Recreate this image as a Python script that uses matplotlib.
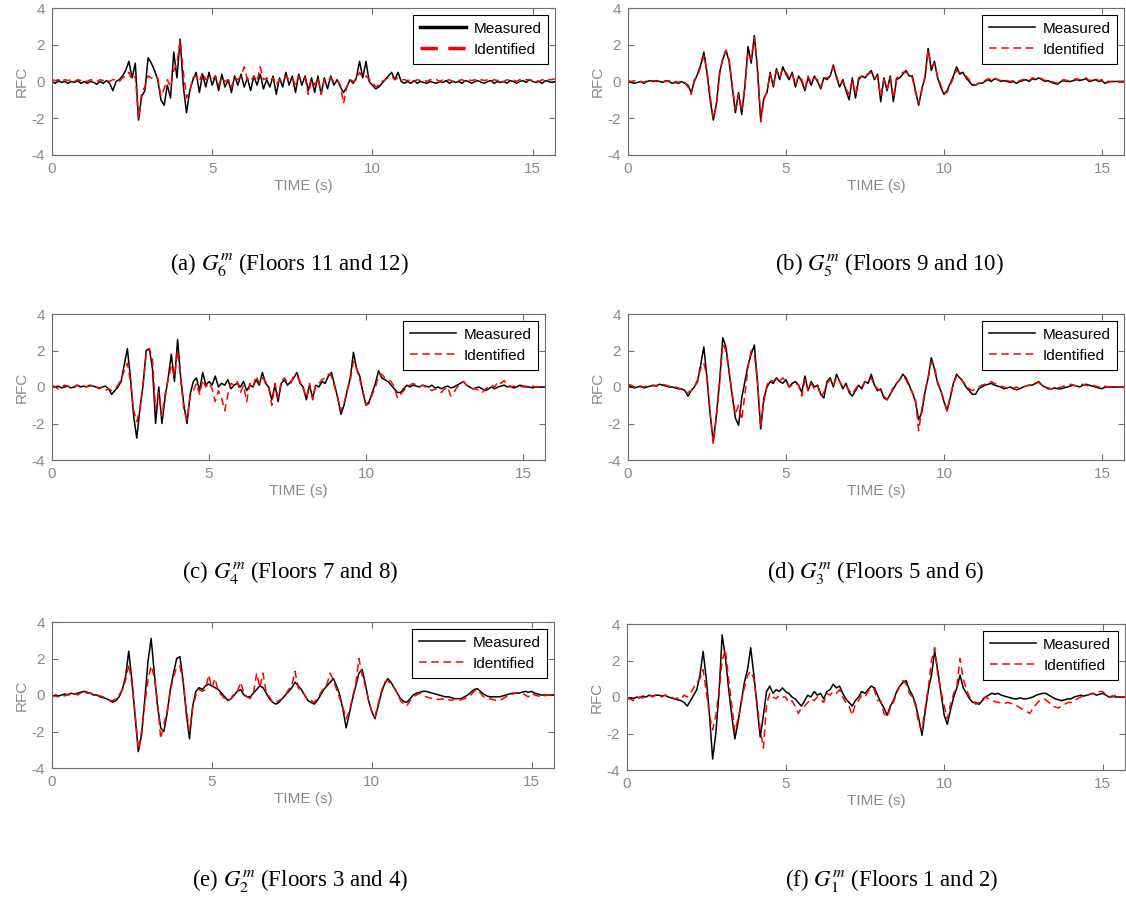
import numpy as np
import matplotlib
matplotlib.use("Agg")
import matplotlib.pyplot as plt

plt.rcParams['font.family'] = ['Liberation Sans', 'DejaVu Sans']
plt.rcParams['mathtext.fontset'] = 'stix'

DT = 0.1  # sampling step of the read-off values (s)

# ---------------- (a) G6 ----------------
a_measured = [
    0.0, -0.1, 0.05, -0.05, 0.0, -0.1, 0.0, -0.05, 0.05, -0.1,
    0.0, -0.1, 0.0, -0.05, -0.15, 0.0, -0.1, 0.05, -0.1, -0.5,
    0.0, 0.1, 0.3, 0.6, 1.1, 0.2, 1.0, -2.1, -0.8, -0.5,
    1.3, 1.0, 0.6, 0.1, -1.0, -1.3, -0.2, -0.9, 1.6, 0.2,
    2.3, -0.3, -1.7, -0.5, 0.1, 0.5, -0.6, 0.4, -0.3, 0.5,
    -0.2, 0.3, -0.5, 0.4, -0.3, 0.1, -0.6, 0.3, -0.2, 0.4,
    -0.3, 0.2, -0.5, 0.3, -0.2, 0.4, -0.4, 0.1, -0.3, 0.3,
    -0.7, 0.2, -0.3, 0.5, -0.2, 0.3, -0.6, 0.4, -0.2, 0.3,
    -0.5, 0.2, -0.6, 0.3, -0.7, 0.2, -0.4, 0.3, -0.2, 0.1,
    -0.3, -0.6, -0.3, 0.1, -0.1, 0.2, 1.1, 0.2, 1.1, 0.0,
    -0.2, -0.4, -0.3, -0.1, 0.1, 0.3, 0.5, 0.1, 0.5, 0.0,
    -0.1, 0.0, -0.1, 0.05, -0.1, 0.0, -0.05, -0.1, 0.0, -0.05,
    -0.1, 0.0, -0.05, 0.05, -0.1, 0.0, -0.05, 0.0, -0.1, 0.05,
    0.0, -0.1, 0.0, 0.05, -0.05, -0.1, 0.0, 0.05, -0.1, 0.0,
    -0.05, 0.0, -0.1, 0.05, 0.0, -0.1, 0.0, 0.05, -0.05, 0.1,
    0.0, -0.05, 0.0, -0.1, 0.05, 0.0, -0.05, 0.0]
a_identified = [
    0.1, 0.05, 0.1, 0.0, 0.1, 0.05, 0.1, 0.0, 0.1, 0.05,
    0.1, 0.0, 0.1, 0.05, 0.0, 0.1, 0.05, 0.1, 0.0, 0.1,
    0.1, 0.0, 0.2, 0.3, 0.5, 0.1, 0.3, -2.0, -0.6, -0.3,
    0.3, 0.2, 0.1, 0.2, -0.8, -0.4, 0.1, -0.3, 0.6, 1.0,
    2.2, 0.5, -0.9, -0.5, 0.2, 0.3, 0.0, 0.5, 0.1, 0.2,
    0.1, 0.3, -0.2, 0.2, 0.0, 0.1, -0.3, 0.2, 0.1, 0.3,
    0.8, 0.1, 0.0, 0.3, 0.0, 0.8, 0.1, 0.2, 0.0, 0.2,
    -0.2, 0.1, 0.0, 0.3, 0.1, 0.2, -0.2, 0.3, 0.1, 0.2,
    -0.7, 0.1, -0.2, 0.2, -0.7, 0.1, 0.0, 0.2, 0.0, 0.1,
    -0.2, -1.2, -0.3, 0.1, 0.0, 0.1, 0.5, 0.2, 0.3, 0.1,
    0.0, -0.3, -0.2, 0.0, 0.1, 0.2, 0.3, 0.1, 0.2, 0.1,
    0.1, 0.05, 0.1, 0.0, 0.1, 0.05, 0.1, 0.0, 0.1, 0.05,
    0.1, 0.0, 0.1, 0.05, 0.1, 0.0, 0.1, 0.05, 0.1, 0.0,
    0.1, 0.05, 0.1, 0.0, 0.1, 0.05, 0.1, 0.0, 0.1, 0.05,
    0.1, 0.0, 0.1, 0.05, 0.1, 0.0, 0.1, 0.05, 0.1, 0.1,
    0.05, 0.1, 0.0, 0.1, 0.05, 0.1, 0.1, 0.15]

# ---------------- (b) G5 ----------------
b_measured = [
    0.0, -0.05, -0.1, -0.05, 0.0, -0.1, 0.0, 0.05, 0.0, 0.05,
    0.0, -0.05, 0.05, 0.0, -0.1, -0.05, -0.1, 0.0, -0.1, -0.2,
    -0.6, 0.0, 0.4, 0.9, 1.6, 0.5, -1.0, -2.1, -1.2, 0.5,
    1.2, 1.7, 1.1, -0.3, -1.7, -0.6, -1.8, -0.3, 1.9, 1.0,
    2.5, 0.6, -2.1, -0.9, -0.6, 0.5, -0.3, 0.7, 0.1, 0.8,
    0.4, 0.1, 0.5, -0.3, 0.3, 0.0, -0.5, 0.2, -0.2, 0.3,
    0.0, -0.4, 0.2, 0.1, 0.3, 0.9, 0.2, -0.3, 0.1, -0.5,
    -1.0, 0.2, -0.9, 0.1, 0.3, 0.2, 0.4, 0.6, 0.1, 0.4,
    -1.1, 0.2, -0.5, 0.3, -1.1, 0.1, 0.2, 0.4, 0.6, 0.3,
    0.3, -0.5, -1.3, -0.4, 0.2, 1.8, 0.6, 1.1, 0.2, -0.3,
    -0.7, -0.5, -0.1, 0.3, 0.8, 0.4, 0.5, 0.2, 0.0, -0.2,
    -0.2, -0.1, -0.1, 0.0, 0.1, 0.0, 0.15, 0.1, 0.0, 0.05,
    0.0, -0.05, 0.0, -0.1, 0.0, 0.05, 0.1, 0.0, 0.15, 0.1,
    0.2, 0.1, 0.0, 0.05, -0.05, -0.1, -0.15, 0.0, 0.05, 0.0,
    0.0, 0.05, 0.1, 0.05, 0.1, 0.15, 0.0, 0.05, 0.1, 0.0,
    0.05, -0.1, 0.0, 0.0, 0.0, 0.0, 0.0, 0.0]
b_identified = [
    0.05, 0.0, 0.05, -0.05, 0.0, -0.05, 0.05, 0.0, 0.05, 0.0,
    0.05, 0.0, 0.0, 0.05, -0.1, 0.0, -0.05, 0.05, -0.05, -0.3,
    -0.7, 0.1, 0.3, 0.8, 1.4, 0.6, -0.8, -2.0, -1.3, 0.4,
    1.3, 1.7, 1.2, -0.2, -1.5, -0.7, -1.6, -0.2, 1.6, 1.2,
    2.4, 0.8, -2.2, -1.0, -0.5, 0.4, -0.2, 0.6, 0.2, 0.7,
    0.5, 0.2, 0.4, -0.2, 0.3, 0.1, -0.4, 0.3, -0.1, 0.2,
    0.1, -0.3, 0.2, 0.2, 0.3, 0.8, 0.3, -0.2, 0.0, -0.4,
    -0.7, 0.1, -0.7, 0.2, 0.3, 0.3, 0.4, 0.5, 0.2, 0.3,
    -0.8, 0.1, -0.4, 0.2, -0.9, 0.2, 0.3, 0.5, 0.5, 0.4,
    0.2, -0.6, -1.2, -0.5, 0.3, 1.7, 0.8, 1.0, 0.3, -0.2,
    -0.6, -0.6, -0.2, 0.2, 0.6, 0.5, 0.4, 0.3, 0.1, -0.1,
    -0.2, -0.1, 0.0, 0.05, 0.15, 0.1, 0.2, 0.1, 0.05, 0.1,
    0.05, 0.0, 0.05, -0.05, 0.05, 0.1, 0.15, 0.05, 0.2, 0.15,
    0.2, 0.15, 0.05, 0.1, 0.0, -0.05, -0.1, 0.05, 0.1, 0.05,
    0.05, 0.1, 0.15, 0.1, 0.15, 0.2, 0.05, 0.1, 0.15, 0.05,
    0.1, -0.1, -0.05, 0.0, 0.0, 0.0, 0.0, 0.0]

# ---------------- (c) G4 ----------------
c_measured = [
    0.05, 0.0, 0.05, -0.05, 0.0, 0.05, -0.05, 0.0, 0.1, 0.0,
    0.05, 0.0, 0.1, 0.05, 0.0, -0.05, 0.0, 0.05, -0.1, -0.4,
    -0.2, 0.0, 0.3, 1.2, 2.1, 0.5, -1.6, -2.8, -1.2, 0.1,
    2.0, 2.1, 1.0, -2.0, 0.0, -2.0, -0.6, 0.5, 1.8, 0.3,
    2.6, 0.5, -1.0, -2.0, -0.4, 0.3, 0.5, -0.2, 0.8, 0.1,
    0.3, 0.1, 0.6, 0.0, 0.2, 0.1, 0.4, -0.1, 0.1, 0.2,
    0.0, 0.3, -0.2, 0.1, 0.0, 0.4, 0.1, 0.8, 0.2, 0.0,
    -0.7, 0.1, -0.8, 0.2, 0.4, 0.1, 0.3, 0.5, 0.8, 0.2,
    0.0, -0.7, 0.1, -0.6, 0.1, 0.0, 0.3, 0.2, 0.6, 0.8,
    0.1, -0.6, -1.5, -1.0, -0.2, 0.5, 1.9, 1.0, 0.6, -0.3,
    -1.0, -0.8, -0.3, 0.2, 0.9, 0.5, 0.4, 0.3, 0.1, -0.1,
    -0.3, -0.3, -0.1, 0.1, 0.0, 0.1, 0.05, 0.0, 0.1, 0.05,
    0.0, 0.1, -0.05, 0.0, -0.1, 0.0, 0.05, -0.05, 0.0, 0.1,
    0.2, 0.3, 0.1, 0.0, -0.1, -0.05, 0.0, -0.1, -0.2, -0.1,
    0.0, -0.1, 0.0, 0.05, 0.1, 0.0, 0.05, -0.05, 0.0, 0.1,
    0.05, 0.0, 0.0, -0.05, 0.0, 0.0, 0.0, 0.0]
c_identified = [
    0.1, 0.0, -0.1, 0.0, 0.1, 0.05, 0.0, -0.05, 0.1, 0.05,
    0.1, 0.0, 0.05, 0.1, 0.0, -0.1, 0.0, -0.2, -0.1, -0.2,
    -0.1, 0.1, 0.4, 0.9, 1.3, 0.3, -1.3, -1.9, -1.2, 0.2,
    1.8, 2.1, 1.5, -1.2, -0.3, -1.6, -0.4, 0.4, 1.2, 0.6,
    2.0, 0.4, -1.2, -1.8, -0.5, -0.2, 0.2, -0.4, 0.4, 0.0,
    0.2, -0.1, -0.8, -0.2, -0.6, -1.3, -0.4, 0.2, 0.1, 0.3,
    -0.3, 0.1, -0.8, 0.2, 0.0, 0.6, 0.2, 0.5, 0.3, 0.0,
    -1.0, 0.2, -0.6, 0.3, 0.5, 0.2, 0.2, 0.6, 0.6, 0.3,
    -0.1, -0.6, 0.2, -0.7, 0.1, 0.2, 0.4, 0.5, 0.7, 0.6,
    0.0, -0.6, -1.3, -0.9, -0.2, 0.4, 1.4, 1.0, 0.4, -0.2,
    -1.0, -0.9, -0.4, 0.0, 0.6, 0.7, 0.5, 0.4, 0.3, 0.0,
    -0.6, -0.4, -0.2, 0.0, 0.1, 0.2, 0.1, 0.0, 0.1, 0.0,
    -0.1, -0.2, -0.1, -0.2, -0.3, -0.1, 0.0, -0.5, -0.3, 0.0,
    0.1, 0.3, 0.1, 0.0, -0.1, -0.1, -0.2, -0.3, -0.1, 0.0,
    0.1, 0.0, 0.3, 0.2, 0.35, 0.1, 0.0, 0.05, 0.0, 0.05,
    0.0, 0.05, 0.0, 0.05, 0.0, 0.0, 0.05, 0.0]

# ---------------- (d) G3 ----------------
d_measured = [
    0.1, 0.0, -0.05, 0.0, 0.05, -0.05, 0.0, 0.05, 0.1, 0.05,
    0.15, 0.1, 0.05, 0.0, 0.0, -0.05, -0.1, -0.1, -0.2, -0.5,
    -0.2, 0.0, 0.3, 1.2, 2.2, 0.5, -1.5, -3.0, -1.5, 0.3,
    2.7, 2.2, 0.8, -0.5, -1.7, -2.1, -0.6, 0.3, 1.2, 1.8,
    2.3, 0.2, -2.3, -0.6, 0.0, 0.3, 0.2, 0.5, 0.3, 0.2,
    0.4, 0.0, 0.2, 0.3, 0.1, -0.3, 0.6, -0.2, 0.3, 0.0,
    0.1, -0.4, -0.6, 0.3, 0.5, 0.0, 0.7, 0.3, -0.1, 0.2,
    -0.3, -0.5, -0.2, 0.1, -0.1, 0.3, 0.2, 0.7, 0.1, -0.2,
    -0.1, -0.6, -0.7, -0.4, -0.1, 0.2, 0.4, 0.7, 0.5, 0.1,
    -0.3, -0.8, -1.8, -1.4, -0.3, 0.5, 1.6, 1.0, 0.2, -0.2,
    -0.8, -1.3, -0.6, 0.2, 0.7, 0.5, 0.3, 0.0, -0.2, -0.4,
    -0.4, -0.1, 0.0, 0.1, 0.15, 0.2, 0.1, 0.05, 0.0, -0.1,
    -0.05, 0.0, -0.1, -0.15, -0.1, 0.0, 0.05, 0.1, 0.1, 0.2,
    0.3, 0.1, 0.0, -0.1, -0.1, -0.05, -0.1, -0.1, -0.05, 0.0,
    0.05, 0.1, 0.05, 0.0, 0.1, 0.15, 0.1, 0.05, 0.0, -0.05,
    -0.1, 0.0, 0.0, 0.0, 0.0, 0.0, 0.0, 0.0]
d_identified = [
    0.15, 0.1, 0.0, 0.05, 0.0, 0.0, 0.05, 0.1, 0.05, 0.1,
    0.1, 0.15, 0.1, 0.05, 0.0, 0.0, -0.05, -0.15, -0.3, -0.3,
    -0.2, 0.0, 0.4, 1.0, 1.3, 0.6, -1.4, -3.1, -1.6, 0.2,
    2.4, 2.0, 0.9, -0.4, -1.5, -1.0, -1.8, -0.4, 1.1, 2.0,
    1.8, 0.3, -2.2, -0.8, 0.1, 0.4, 0.3, 0.5, 0.3, 0.5,
    0.3, 0.0, 0.1, 0.2, 0.1, -0.5, 0.4, -0.2, 0.2, -0.1,
    0.1, -0.5, -0.3, 0.2, 0.4, 0.1, 0.5, 0.3, 0.0, 0.1,
    -0.2, -0.4, -0.1, 0.1, 0.0, 0.3, 0.3, 0.5, 0.1, -0.1,
    -0.2, -0.5, -0.7, -0.4, 0.0, 0.2, 0.4, 0.6, 0.4, 0.0,
    -0.3, -0.7, -2.4, -1.2, -0.2, 0.5, 1.4, 1.1, 0.3, -0.2,
    -0.7, -1.3, -0.5, 0.2, 0.6, 0.6, 0.3, 0.1, -0.1, -0.2,
    -0.1, 0.0, 0.1, 0.15, 0.2, 0.3, 0.2, 0.1, 0.05, 0.0,
    -0.05, -0.1, -0.05, 0.0, -0.1, 0.0, 0.05, 0.1, 0.15, 0.2,
    0.25, 0.1, 0.0, -0.05, -0.1, -0.1, -0.05, 0.0, 0.05, 0.1,
    0.15, 0.1, 0.05, 0.1, 0.15, 0.1, 0.05, 0.1, 0.05, 0.0,
    -0.05, 0.05, 0.0, 0.0, 0.0, 0.0, 0.0, 0.0]

# ---------------- (e) G2 ----------------
e_measured = [
    -0.1, 0.0, -0.05, 0.0, 0.05, 0.0, 0.1, 0.05, 0.1, 0.15,
    0.2, 0.15, 0.1, 0.0, 0.0, -0.1, -0.15, -0.2, -0.3, -0.4,
    -0.3, -0.1, 0.3, 1.0, 2.4, 0.8, -1.2, -3.1, -2.2, -0.3,
    1.8, 3.1, 1.2, -0.6, -1.8, -2.0, -1.0, 0.3, 1.2, 2.0,
    2.1, 0.8, -1.0, -2.4, -0.6, 0.2, 0.4, 0.3, 0.5, 0.6,
    0.5, 0.4, 0.3, 0.1, -0.1, -0.3, -0.2, 0.0, 0.2, 0.3,
    0.0, -0.1, -0.1, 0.1, 0.3, 0.5, 0.4, 0.1, -0.2, -0.4,
    -0.5, -0.4, -0.2, 0.0, 0.2, 0.4, 0.7, 0.5, 0.3, 0.0,
    -0.3, -0.4, -0.5, -0.3, 0.0, 0.3, 0.5, 0.7, 0.9, 0.5,
    0.0, -0.8, -1.8, -1.0, -0.2, 0.5, 1.2, 1.4, 0.6, -0.3,
    -0.9, -1.3, -0.6, 0.1, 0.6, 0.9, 0.7, 0.4, 0.1, -0.2,
    -0.35, -0.4, -0.2, 0.0, 0.1, 0.15, 0.2, 0.2, 0.15, 0.1,
    0.05, 0.0, -0.05, -0.1, -0.1, -0.15, -0.2, -0.2, -0.2, -0.1,
    0.0, 0.15, 0.3, 0.35, 0.2, 0.05, -0.05, -0.1, -0.1, -0.1,
    -0.1, -0.05, 0.0, 0.05, 0.1, 0.1, 0.1, 0.15, 0.2, 0.15,
    0.2, 0.1, 0.05, 0.0, 0.0, 0.0, 0.0, 0.0]
e_identified = [
    -0.1, -0.05, -0.1, 0.0, -0.05, 0.05, 0.0, 0.1, 0.0, 0.1,
    0.15, 0.1, 0.1, 0.05, 0.0, -0.05, -0.1, -0.2, -0.3, -0.3,
    -0.2, 0.0, 0.3, 0.8, 1.7, 0.6, -1.0, -3.0, -2.0, -0.5,
    0.8, 1.6, 1.0, -0.4, -2.4, -1.6, -0.9, 0.2, 1.0, 1.5,
    1.6, 0.7, -0.8, -2.0, -0.7, 0.0, 0.3, 0.2, 0.3, 1.1,
    0.4, 0.9, 0.2, 0.0, -0.2, -0.3, -0.2, 0.1, 0.2, 0.7,
    0.1, -0.1, -0.2, 0.1, 1.2, 0.4, 1.2, 0.1, -0.1, -0.4,
    -0.4, -0.3, -0.2, 0.0, 0.3, 0.5, 1.3, 0.4, 0.2, 0.0,
    -0.3, -0.3, -0.4, -0.2, 0.1, 0.4, 0.6, 1.2, 0.8, 0.3,
    -0.2, -0.7, -1.3, -0.9, -0.1, 0.6, 2.0, 1.1, 0.5, -0.3,
    -0.9, -1.2, -0.5, 0.2, 0.7, 0.8, 0.6, 0.4, 0.1, -0.3,
    -0.5, -0.6, -0.3, -0.1, 0.0, 0.1, 0.0, -0.1, -0.15, -0.2,
    -0.2, -0.25, -0.2, -0.3, -0.25, -0.3, -0.2, -0.3, -0.25, -0.2,
    -0.1, 0.0, 0.2, 0.3, 0.1, -0.1, -0.2, -0.2, -0.25, -0.3,
    -0.3, -0.2, -0.1, 0.0, 0.05, 0.1, 0.15, 0.1, 0.0, -0.1,
    0.1, 0.0, -0.05, -0.1, -0.05, 0.0, 0.0, 0.0]

# ---------------- (f) G1 ----------------
f_measured = [
    -0.1, -0.05, -0.1, 0.0, -0.05, 0.05, 0.0, 0.1, 0.05, 0.1,
    0.1, 0.05, 0.1, 0.0, -0.05, -0.1, -0.15, -0.2, -0.3, -0.5,
    -0.2, 0.1, 0.4, 1.2, 2.5, 1.0, -1.0, -3.4, -2.0, 0.2,
    3.4, 2.2, 0.5, -1.0, -2.3, -1.4, -0.3, 0.8, 1.5, 2.7,
    1.2, -0.5, -2.2, -1.0, 0.3, 0.6, 0.2, 0.4, 0.3, 0.5,
    0.3, 0.2, 0.0, -0.1, -0.3, -0.5, -0.2, 0.1, 0.0, 0.3,
    0.1, 0.2, -0.1, 0.3, 0.4, 0.7, 0.5, 0.6, 0.2, -0.1,
    -0.3, -0.5, -0.2, 0.0, 0.3, 0.2, 0.4, 0.6, 0.5, 0.1,
    -0.3, -0.6, -1.0, -0.5, -0.2, 0.3, 0.6, 0.8, 0.9, 0.4,
    0.1, -0.4, -1.2, -2.1, -0.8, 0.4, 1.2, 2.5, 1.4, 0.2,
    -1.0, -1.5, -0.7, 0.0, 0.5, 1.2, 0.5, 0.2, -0.1, -0.3,
    -0.3, -0.4, -0.2, 0.0, 0.1, 0.2, 0.15, 0.2, 0.1, 0.05,
    0.0, -0.05, -0.1, -0.1, -0.05, -0.1, -0.1, -0.05, 0.0, 0.1,
    0.15, 0.2, 0.2, 0.1, 0.0, -0.1, -0.15, -0.2, -0.15, -0.1,
    -0.1, 0.0, 0.05, 0.1, 0.05, 0.1, 0.15, 0.2, 0.1, 0.15,
    0.2, 0.1, 0.0, 0.05, 0.0, 0.0, 0.0, 0.0]
f_identified = [
    -0.1, -0.1, -0.2, -0.1, 0.0, -0.05, 0.05, 0.1, 0.0, 0.1,
    0.1, 0.0, 0.1, 0.05, 0.0, -0.1, -0.05, -0.1, 0.1, 0.0,
    0.2, 0.5, 0.8, 1.0, 1.5, 0.3, -1.0, -1.8, -1.0, 0.3,
    2.0, 2.6, 1.0, -0.4, -1.9, -1.2, -0.3, 0.5, 1.2, 1.4,
    1.0, -0.3, -1.8, -2.8, -0.4, 0.2, 0.0, -0.1, 0.1, 0.0,
    0.0, -0.3, -0.2, -0.5, -0.9, -0.6, -0.5, -0.3, -0.1, -0.2,
    0.0, -0.1, -0.3, 0.2, 0.1, 0.3, 0.2, 0.4, 0.0, -0.3,
    -0.5, -1.0, -0.4, -0.2, 0.1, 0.0, 0.3, 0.5, 0.4, -0.2,
    -0.2, -0.9, -1.1, -0.6, -0.3, 0.2, 0.6, 0.9, 0.7, 0.2,
    0.0, -0.5, -1.5, -1.8, -0.6, 0.5, 2.0, 2.7, 1.2, 0.3,
    -0.5, -1.2, -0.4, 0.2, 0.6, 2.1, 1.0, 0.4, 0.0, -0.2,
    -0.4, -0.3, -0.1, 0.0, -0.1, -0.2, -0.25, -0.3, -0.3, -0.35,
    -0.3, -0.35, -0.4, -0.5, -0.6, -0.7, -0.8, -0.9, -0.6, -0.4,
    -0.2, -0.1, -0.15, -0.3, -0.45, -0.55, -0.6, -0.5, -0.4, -0.3,
    -0.3, -0.2, -0.1, 0.0, 0.05, 0.1, 0.15, 0.2, 0.25, 0.3,
    0.3, 0.1, 0.0, 0.0, 0.1, 0.0, 0.0, 0.0]

x_ticks = [0, 5, 10, 15]
y_ticks = [-4, -2, 0, 2, 4]
y_tick_labels = ["-4", "-2", "0", "2", "4"]
legend_labels = ["Measured", "Identified"]
captions = [
    r"(a) $G_6^m$ (Floors 11 and 12)",
    r"(b) $G_5^m$ (Floors 9 and 10)",
    r"(c) $G_4^m$ (Floors 7 and 8)",
    r"(d) $G_3^m$ (Floors 5 and 6)",
    r"(e) $G_2^m$ (Floors 3 and 4)",
    r"(f) $G_1^m$ (Floors 1 and 2)",
]

W, H = 1126, 898
# axes boxes in pixels: left, right, top, bottom
boxes = [
    (52, 555, 8, 155),
    (628, 1124, 8, 155),
    (52, 545, 314, 460),
    (628, 1124, 314, 460),
    (52, 554, 622, 768),
    (627, 1125, 624, 770),
]
caption_xy = [(290, 265), (889, 265), (290, 572), (876, 572), (300, 880), (892, 880)]
series = [
    (a_measured, a_identified),
    (b_measured, b_identified),
    (c_measured, c_identified),
    (d_measured, d_identified),
    (e_measured, e_identified),
    (f_measured, f_identified),
]

TICK_GREY = "#8a8a8a"
SPINE_GREY = "#6e6e6e"

fig = plt.figure(figsize=(W / 100, H / 100), dpi=100)
for i, ((meas, ident), (l, r, t, b)) in enumerate(zip(series, boxes)):
    ax = fig.add_axes([l / W, 1 - b / H, (r - l) / W, (b - t) / H])
    tm = np.arange(len(meas)) * DT
    ti = np.arange(len(ident)) * DT
    ax.plot(tm, meas, color="black", lw=1.1, label=legend_labels[0])
    ax.plot(ti, ident, color="#ff0000", lw=1.1, ls=(0, (5, 3)), label=legend_labels[1])
    ax.set_xlim(0, 15.7)
    ax.set_ylim(-4, 4)
    ax.set_xticks(x_ticks)
    ax.set_yticks(y_ticks)
    ax.set_yticklabels(y_tick_labels)
    ax.tick_params(direction="in", top=True, right=True, length=4, width=0.8,
                   colors=SPINE_GREY, labelcolor=TICK_GREY, labelsize=11, pad=5)
    for s in ax.spines.values():
        s.set_color(SPINE_GREY)
        s.set_linewidth(0.8)
    ax.set_xlabel("TIME (s)", color=TICK_GREY, fontsize=11, labelpad=2)
    ax.set_ylabel("RFC", color=TICK_GREY, fontsize=11, labelpad=2)
    leg = ax.legend(loc="upper right", fontsize=11, frameon=True, fancybox=False,
                    edgecolor="black", framealpha=1, borderaxespad=0.45,
                    handlelength=3.0, handletextpad=0.5, borderpad=0.45,
                    labelspacing=0.45)
    leg.get_frame().set_linewidth(0.8)
    if i == 0:
        for h in leg.legend_handles:
            h.set_linewidth(2.5)
    cx, cy = caption_xy[i]
    fig.text(cx / W, 1 - cy / H, captions[i], ha="center", va="center",
             fontsize=16.5, family="Liberation Serif")

fig.savefig("out.png", dpi=100)
